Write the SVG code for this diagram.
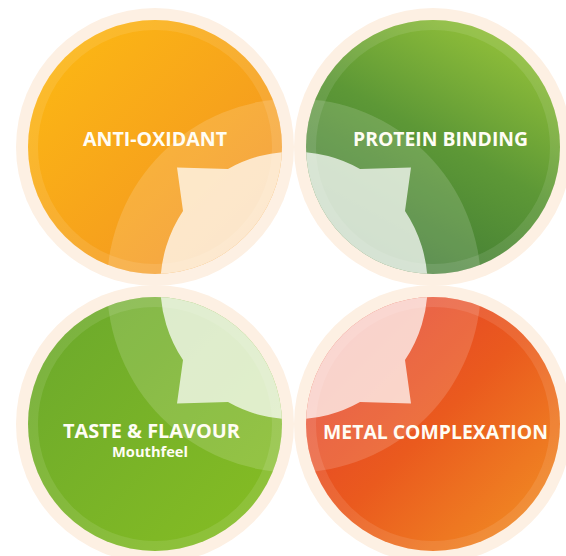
<svg xmlns="http://www.w3.org/2000/svg" xmlns:xlink="http://www.w3.org/1999/xlink" width="566" height="556" viewBox="0 0 566 556">
  <defs>
    <style>
      .ring { fill: #fdf0e3; }
      .band { fill: none; stroke: #ffffff; stroke-opacity: 0.1; stroke-width: 10; }
      .halo { fill: #ffffff; fill-opacity: 0.15; }
      .petal { fill: #ffffff; fill-opacity: 0.72; }
      .label { font-family: "Open Sans", "Liberation Sans", sans-serif; font-weight: 700; font-size: 19.5px; fill: #fffdf4; text-anchor: middle; }
      .sub { font-size: 13.5px; }
    </style>
    <linearGradient id="gOrange" x1="0" y1="0" x2="1" y2="1">
      <stop offset="0" stop-color="#fdbb12"/>
      <stop offset="1" stop-color="#f28f24"/>
    </linearGradient>
    <linearGradient id="gDarkGreen" x1="0.85" y1="0" x2="0.3" y2="1">
      <stop offset="0" stop-color="#9ac63a"/>
      <stop offset="0.5" stop-color="#5d9836"/>
      <stop offset="1" stop-color="#3e7935"/>
    </linearGradient>
    <linearGradient id="gLime" x1="0" y1="0" x2="1" y2="1">
      <stop offset="0" stop-color="#6aa82d"/>
      <stop offset="1" stop-color="#87be22"/>
    </linearGradient>
    <linearGradient id="gRed" x1="0" y1="0" x2="1" y2="1">
      <stop offset="0" stop-color="#e4382e"/>
      <stop offset="0.5" stop-color="#ea5a1e"/>
      <stop offset="1" stop-color="#f29524"/>
    </linearGradient>
    <clipPath id="clipTL"><circle cx="155" cy="147" r="127"/></clipPath>
    <clipPath id="clipTR"><circle cx="433" cy="147" r="127"/></clipPath>
    <clipPath id="clipBL"><circle cx="155" cy="424" r="127"/></clipPath>
    <clipPath id="clipBR"><circle cx="433" cy="424" r="127"/></clipPath>
    <!-- shared centre overlay: wide halo plus the four-pointed flower -->
    <g id="overlay">
      <circle class="halo" cx="294" cy="285.5" r="187"/>
      <path class="petal" d="M228,169 A134,134 0 0 1 360,169 L411,167.5 L405,211 A134,134 0 0 1 405,360 L411,403.5 L360,402 A134,134 0 0 1 228,402 L177,403.5 L183,360 A134,134 0 0 1 183,211 L177,167.5 Z"/>
    </g>
  </defs>

  <rect width="566" height="556" fill="#ffffff"/>

  <g id="anti-oxidant">
    <circle class="ring" cx="155" cy="147" r="139"/>
    <circle cx="155" cy="147" r="127" fill="url(#gOrange)"/>
    <circle class="band" cx="155" cy="147" r="122"/>
    <use xlink:href="#overlay" clip-path="url(#clipTL)"/>
    <text class="label" x="155" y="146" textLength="144" lengthAdjust="spacingAndGlyphs">ANTI-OXIDANT</text>
  </g>

  <g id="protein-binding">
    <circle class="ring" cx="433" cy="147" r="139"/>
    <circle cx="433" cy="147" r="127" fill="url(#gDarkGreen)"/>
    <circle class="band" cx="433" cy="147" r="122"/>
    <use xlink:href="#overlay" clip-path="url(#clipTR)"/>
    <text class="label" x="440.5" y="146" textLength="175" lengthAdjust="spacingAndGlyphs">PROTEIN BINDING</text>
  </g>

  <g id="taste-flavour">
    <circle class="ring" cx="155" cy="424" r="139"/>
    <circle cx="155" cy="424" r="127" fill="url(#gLime)"/>
    <circle class="band" cx="155" cy="424" r="122"/>
    <use xlink:href="#overlay" clip-path="url(#clipBL)"/>
    <text class="label" x="151.5" y="438" textLength="177" lengthAdjust="spacingAndGlyphs">TASTE &amp; FLAVOUR</text>
    <text class="label sub" x="150" y="457" textLength="76" lengthAdjust="spacingAndGlyphs">Mouthfeel</text>
  </g>

  <g id="metal-complexation">
    <circle class="ring" cx="433" cy="424" r="139"/>
    <circle cx="433" cy="424" r="127" fill="url(#gRed)"/>
    <circle class="band" cx="433" cy="424" r="122"/>
    <use xlink:href="#overlay" clip-path="url(#clipBR)"/>
    <text class="label" x="435.5" y="439" textLength="225" lengthAdjust="spacingAndGlyphs">METAL COMPLEXATION</text>
  </g>
</svg>
